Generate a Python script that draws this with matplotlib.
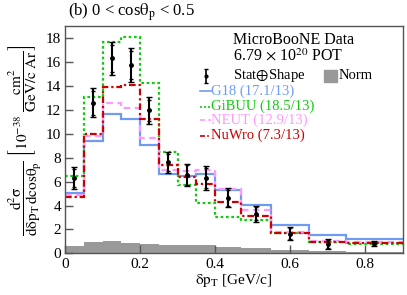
"""Cross section in delta pT, 0 < cos(theta_p) < 0.5 slice, data vs generators."""

import numpy as np
import matplotlib

matplotlib.use("Agg")
import matplotlib.pyplot as plt  # noqa: E402
from matplotlib.patches import Rectangle  # noqa: E402

# --- data ---
edges = [0, 0.05, 0.1, 0.15, 0.2, 0.25, 0.3, 0.35, 0.4, 0.47, 0.55, 0.65, 0.75, 0.9]
data = [6.3, 12.6, 16.3, 15.75, 11.95, 7.6, 6.55, 6.3, 4.65, 3.3, 1.65, 0.78, 0.84]
err_tot = [0.9, 1.2, 1.4, 1.45, 1.1, 0.85, 0.95, 1.0, 0.8, 0.68, 0.55, 0.43, 0.2]
err_stat = [0.75, 1.0, 1.15, 1.2, 0.9, 0.7, 0.8, 0.85, 0.65, 0.55, 0.45, 0.35, 0.15]
norm = [0.6, 0.92, 1.03, 0.9, 0.8, 0.68, 0.68, 0.7, 0.56, 0.42, 0.3, 0.22, 0.12]

g18 = [5.05, 9.4, 11.64, 11.22, 9.07, 6.6, 6.48, 6.6, 5.3, 4.05, 2.4, 1.52, 1.17]
gibuu = [6.47, 13.05, 17.7, 18.05, 14.2, 8.43, 5.72, 4.19, 3.07, 2.75, 1.74, 0.98, 0.78]
neut = [4.85, 9.77, 12.56, 12.14, 9.63, 7.0, 6.85, 6.95, 5.35, 3.6, 1.8, 1.02, 0.95]
nuwro = [4.69, 9.95, 13.87, 14.04, 11.25, 7.4, 6.36, 5.78, 4.32, 3.15, 1.73, 0.97, 0.89]

models = [
    ("G18", g18, "#6f9cf2", "-", "17.1/13"),
    ("GiBUU", gibuu, "#11cc11", (0, (1.2, 1.2)), "18.5/13"),
    ("NEUT", neut, "#ff99ff", (0, (3, 2)), "12.9/13"),
    ("NuWro", nuwro, "#cc0000", (0, (3, 1.3, 1, 1.3)), "7.3/13"),
]

plt.rcParams["font.family"] = ["Liberation Serif", "DejaVu Serif"]
plt.rcParams["mathtext.fontset"] = "stix"

fig = plt.figure(figsize=(4.07, 2.95), dpi=100)
ax = fig.add_axes([0.16, 0.141, 0.829, 0.771])

centers = 0.5 * (np.array(edges[:-1]) + np.array(edges[1:]))

ax.stairs(norm, edges, fill=True, color="#999999", lw=0)

for name, vals, col, ls, chi in models:
    ax.stairs(vals, edges, color=col, lw=1.6, linestyle=ls, baseline=None)

ax.errorbar(centers, data, yerr=err_tot, fmt="o", color="black", ms=2.5,
            elinewidth=1.5, capsize=2, capthick=1)
ax.errorbar(centers, data, yerr=err_stat, fmt="none", color="black",
            elinewidth=0, capsize=1.5, capthick=1)

ax.set_xlim(0, 0.9)
ax.set_ylim(0, 19)
ax.set_xticks([0, 0.2, 0.4, 0.6, 0.8])
ax.set_xticklabels(["0", "0.2", "0.4", "0.6", "0.8"])
ax.set_yticks(range(0, 19, 2))
ax.tick_params(direction="in", length=6, width=1, labelsize=11, colors="#555555",
               labelcolor="black", pad=3)
for s in ax.spines.values():
    s.set_color("#555555")
    s.set_linewidth(1)

ax.set_xlabel(r"$\mathrm{\delta p_T}$ [GeV/c]", fontsize=11, labelpad=1)
ax.set_ylabel(r"$\dfrac{\mathrm{d^2\sigma}}{\mathrm{d\delta p_T\, dcos\theta_p}}$"
              r"$\ \left[10^{-38}\ \dfrac{\mathrm{cm}^2}{\mathrm{GeV/c\ Ar}}\right]$",
              fontsize=11, labelpad=2)
fig.text(0.167, 0.958, r"(b) 0 < cos$\mathrm{\theta_p}$ < 0.5", fontsize=12,
         va="center", ha="left")

# --- hand-placed legend, ROOT style ---
tr = ax.transAxes
fs = 10.5
ax.text(0.498, 0.938, "MicroBooNE Data", transform=tr, fontsize=11.5, va="center")
ax.text(0.498, 0.864, r"6.79 $\times$ 10$^{20}$ POT", transform=tr, fontsize=11.5,
        va="center")
ax.errorbar([0.418], [0.78], yerr=[[0.032]], transform=tr, fmt="o", color="black",
            ms=2, elinewidth=1.2, capsize=1.5, capthick=1)
ax.text(0.498, 0.78, r"Stat$\oplus$Shape", transform=tr, fontsize=fs, va="center")
ax.add_patch(Rectangle((0.767, 0.752), 0.038, 0.055, transform=tr, color="#999999"))
ax.text(0.81, 0.78, "Norm", transform=tr, fontsize=fs, va="center")

ys = [0.712, 0.645, 0.585, 0.518]
for (name, vals, col, ls, chi), y in zip(models, ys):
    ax.plot([0.4, 0.432], [y, y], transform=tr, color=col, lw=1.2, linestyle=ls)
    ax.text(0.433, y, f"{name} ({chi})", transform=tr, fontsize=fs, va="center",
            color=col)

fig.savefig("out.png", dpi=100)
